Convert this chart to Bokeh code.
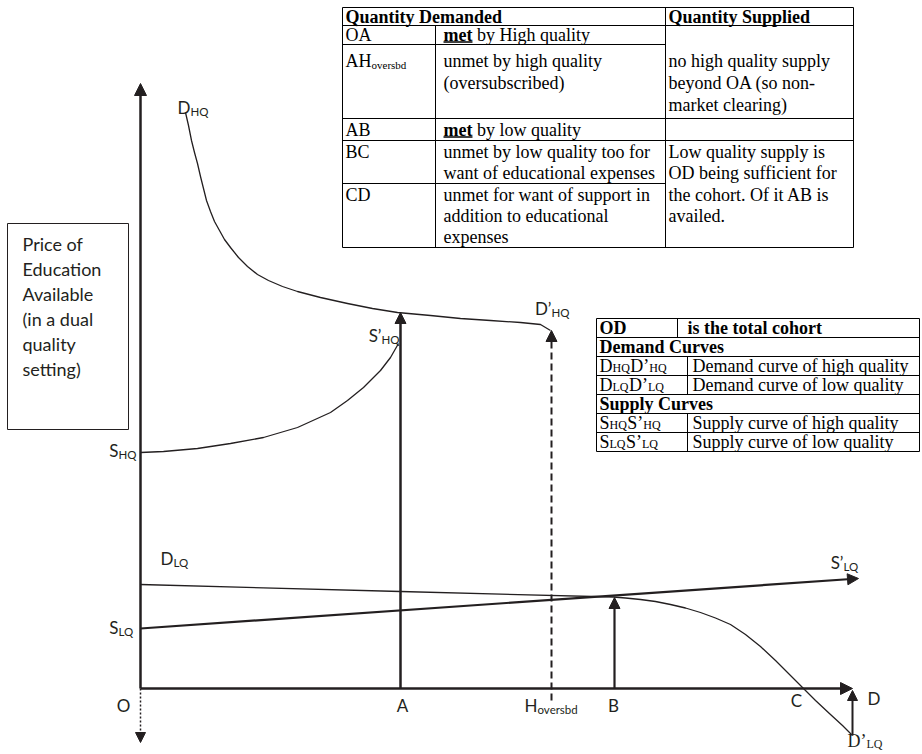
from bokeh.plotting import figure
from bokeh.models import Arrow, NormalHead, Range1d
from bokeh.core.properties import value
from bokeh.embed import file_html
from bokeh.resources import INLINE

# ---------------- data: quantity rightwards from O, price upwards from O ----------------
q_A, q_H, q_B, q_C, q_D = 260, 411, 474, 663, 712
p_axis_top = 605
p_A_tip = 376          # DHQ level reached at A
p_H_tip = 358          # D'HQ
p_B_tip = 91           # LQ equilibrium
p_Dprime = -47         # D'LQ
p_O_down = -54

# Demand curve of high quality  (D_HQ -> D'_HQ)
dhq_q = [45, 48, 51, 54, 57, 60, 63, 66, 70, 74, 79, 84, 90, 98, 107, 117, 128, 142,
         157, 180, 207, 232, 257, 290, 320, 350, 380, 400, 410]
dhq_p = [576, 563, 548, 536, 525, 512, 500, 488, 477, 467, 458, 449, 441, 431, 422, 414, 408, 402,
         397, 391, 385, 380, 376, 373, 370, 368, 366, 364, 358]
# Supply curve of high quality (S_HQ -> S'_HQ)
shq_q = [0, 23, 57, 90, 123, 157, 190, 207, 223, 240, 250, 258]
shq_p = [236, 237, 240, 245, 251, 261, 276, 288, 301, 318, 331, 345]
# Supply curve of low quality (S_LQ -> S'_LQ)
slq_q = [0, 718]
slq_p = [60, 110]
# Demand curve of low quality (D_LQ -> D'_LQ)
dlq_q = [0, 260, 473, 485, 500, 515, 530, 545, 560, 575, 590, 605, 620, 635, 650, 663, 675, 690, 702, 712]
dlq_p = [104, 97, 91.5, 90.5, 89, 87, 84, 80.5, 76, 70.5, 64, 54, 42, 28, 13, 0, -12, -26, -37, -47]

# ---------------- figure ----------------
W, H = 922, 754
OX, OY = 140, 688  # where O sits on the page
p = figure(width=W, height=H,
           x_range=Range1d(-OX, W - OX),
           y_range=Range1d(OY - H, OY),
           output_backend="svg", toolbar_location=None, min_border=0)
p.axis.visible = False
p.grid.visible = False
p.outline_line_color = None
p.background_fill_color = "white"
p.border_fill_color = "white"

INK = "#231f20"


def X(px):
    return px - OX


def Y(py):
    return OY - py


def arrow(q0, p0, q1, p1, lw=2.0, dash="solid", size=11):
    p.add_layout(Arrow(end=NormalHead(size=size, fill_color=INK, line_color=INK, line_width=1),
                       x_start=q0, y_start=p0, x_end=q1, y_end=p1,
                       line_width=lw, line_color=INK, line_dash=dash))


def txt(px, py, s, font="Lato", size=17, align="left", style="normal", color=INK):
    p.text(x=[X(px)], y=[Y(py)], text=[s], text_font=value(font),
           text_font_size=f"{size}px", text_align=align, text_baseline="middle",
           text_font_style=style, text_color=color)


def lab(jx, py, main, sub, size=17, sub_size=11.5, font="Lato", drop=4):
    txt(jx, py, main, font=font, size=size, align="right")
    txt(jx, py + drop, sub, font=font, size=sub_size, align="left")


def seg(x0, y0, x1, y1, lw=1, color="black"):
    p.segment(x0=[X(x0)], y0=[Y(y0)], x1=[X(x1)], y1=[Y(y1)], line_width=lw, line_color=color)


# ---------------- curves ----------------
p.line(dhq_q, dhq_p, line_color=INK, line_width=1.3, line_join="round")
p.line(shq_q, shq_p, line_color=INK, line_width=1.3, line_join="round")
p.line(dlq_q, dlq_p, line_color=INK, line_width=1.3, line_join="round")
arrow(slq_q[0], slq_p[0], slq_q[1], slq_p[1], lw=2.2, size=11)

# axes
arrow(0, 0, 0, p_axis_top, lw=2.5, size=12)
arrow(0, 0, q_D, 0, lw=2.5, size=12)
arrow(0, 0, 0, p_O_down, lw=1.5, dash="2 2", size=10)

# quantity markers
arrow(q_A, 0, q_A, p_A_tip, lw=2.5, size=11)
arrow(q_H, -12, q_H, p_H_tip, lw=2, dash="7 4", size=11)
arrow(q_B, 0, q_B, p_B_tip, lw=2.2, size=11)
arrow(q_D, p_Dprime, q_D, -2, lw=2, size=10)

# ---------------- diagram labels ----------------
lab(190, 107, "D", "HQ")
lab(381, 335, "S\u2019", "HQ")
lab(551, 308, "D\u2019", "HQ")
lab(118, 450, "S", "HQ")
lab(173, 558, "D", "LQ")
lab(118, 627, "S", "LQ")
lab(843, 562, "S\u2019", "LQ")
lab(537, 705, "H", "oversbd")
txt(123, 705, "O", align="center")
txt(402, 705, "A", align="center")
txt(613, 705, "B", align="center")
txt(796, 700, "C", align="center")
txt(867, 698, "D", align="left")
lab(866, 740, "D\u2019", "LQ", font="Liberation Serif", size=18, sub_size=12, drop=3)

# ---------------- price label box ----------------
p.quad(left=[X(7)], right=[X(128)], top=[Y(223)], bottom=[Y(429)],
       fill_color=None, line_color=INK, line_width=1)
for i, s in enumerate(["Price of", "Education", "Available", "(in a dual", "quality", "setting)"]):
    txt(22, 243 + 25 * i, s, size=18)

# ---------------- table 1 ----------------
TF = "Liberation Serif"
TS = 18
L, c1, c2, R = 342, 435, 665, 853
for (xa, xb, yy) in [(L, R, 7), (L, R, 25), (L, c2, 44), (L, R, 118), (L, R, 140), (L, c2, 183), (L, R, 247)]:
    seg(xa, yy, xb, yy)
for (xx, ya, yb) in [(L, 7, 247), (R, 7, 247), (c2, 7, 247), (c1, 25, 247)]:
    seg(xx, ya, xx, yb)


def ttxt(px, py, s, style="normal", size=TS, align="left"):
    txt(px, py, s, font=TF, size=size, align=align, style=style, color="black")


def met(px, py, rest):
    ttxt(px, py, "met", style="bold")
    w = (0.833 + 0.444 + 0.333) * TS
    seg(px, py + 7.5, px + w, py + 7.5, lw=1.3)
    ttxt(px + w + 0.25 * TS, py, rest)


ttxt(345, 16, "Quantity Demanded", style="bold")
ttxt(668, 16, "Quantity Supplied", style="bold")
ttxt(345, 34, "OA")
met(443, 34, "by High quality")
ttxt(371, 60, "AH", align="right")
ttxt(371, 64, "oversbd", size=11)
ttxt(443, 60, "unmet by high quality")
ttxt(443, 82, "(oversubscribed)")
ttxt(668, 60, "no high quality supply")
ttxt(668, 82, "beyond OA (so non-")
ttxt(668, 104, "market clearing)")
ttxt(345, 129, "AB")
met(443, 129, "by low quality")
ttxt(345, 151, "BC")
ttxt(443, 151, "unmet by low quality too for")
ttxt(443, 172, "want of  educational expenses")
ttxt(668, 151, "Low quality supply is")
ttxt(668, 172, "OD being sufficient for")
ttxt(668, 194, "the cohort. Of it AB  is")
ttxt(668, 215, "availed.")
ttxt(345, 194, "CD")
ttxt(443, 194, "unmet for want of support in")
ttxt(443, 215, "addition to educational")
ttxt(443, 236, "expenses")

# ---------------- table 2 ----------------
L2, R2, d1, d2 = 596, 919, 677, 687
ys = [318, 337, 356, 375, 394, 413, 432, 451]
for yy in ys:
    seg(L2, yy, R2, yy)
seg(L2, ys[0], L2, ys[-1])
seg(R2, ys[0], R2, ys[-1])
seg(d1, ys[0], d1, ys[1])
seg(d2, ys[2], d2, ys[4])
seg(d2, ys[5], d2, ys[7])

TW = {"D": 0.722, "H": 0.722, "Q": 0.722, "L": 0.611, "S": 0.556, "\u2019": 0.333}
SUB = 12


def pair(px, py, a, sa, b, sb):
    x = px
    for s, sz, dy in [(a, TS, 0), (sa, SUB, 2), (b, TS, 0), (sb, SUB, 2)]:
        ttxt(x, py + dy, s, size=sz)
        x += sum(TW[ch] for ch in s) * sz + (0.5 if sz == SUB else 0)


mid = [(ys[i] + ys[i + 1]) / 2 for i in range(7)]
ttxt(599, mid[0], "OD", style="bold")
ttxt(687, mid[0], "is the total cohort", style="bold")
ttxt(599, mid[1], "Demand Curves", style="bold")
pair(599, mid[2], "D", "HQ", "D\u2019", "HQ")
ttxt(692, mid[2], "Demand curve of high quality")
pair(599, mid[3], "D", "LQ", "D\u2019", "LQ")
ttxt(692, mid[3], "Demand curve of low quality")
ttxt(599, mid[4], "Supply Curves", style="bold")
pair(599, mid[5], "S", "HQ", "S\u2019", "HQ")
ttxt(692, mid[5], "Supply curve of high quality")
pair(599, mid[6], "S", "LQ", "S\u2019", "LQ")
ttxt(692, mid[6], "Supply curve of low quality")

open("out.html", "w").write(file_html(p, INLINE))
